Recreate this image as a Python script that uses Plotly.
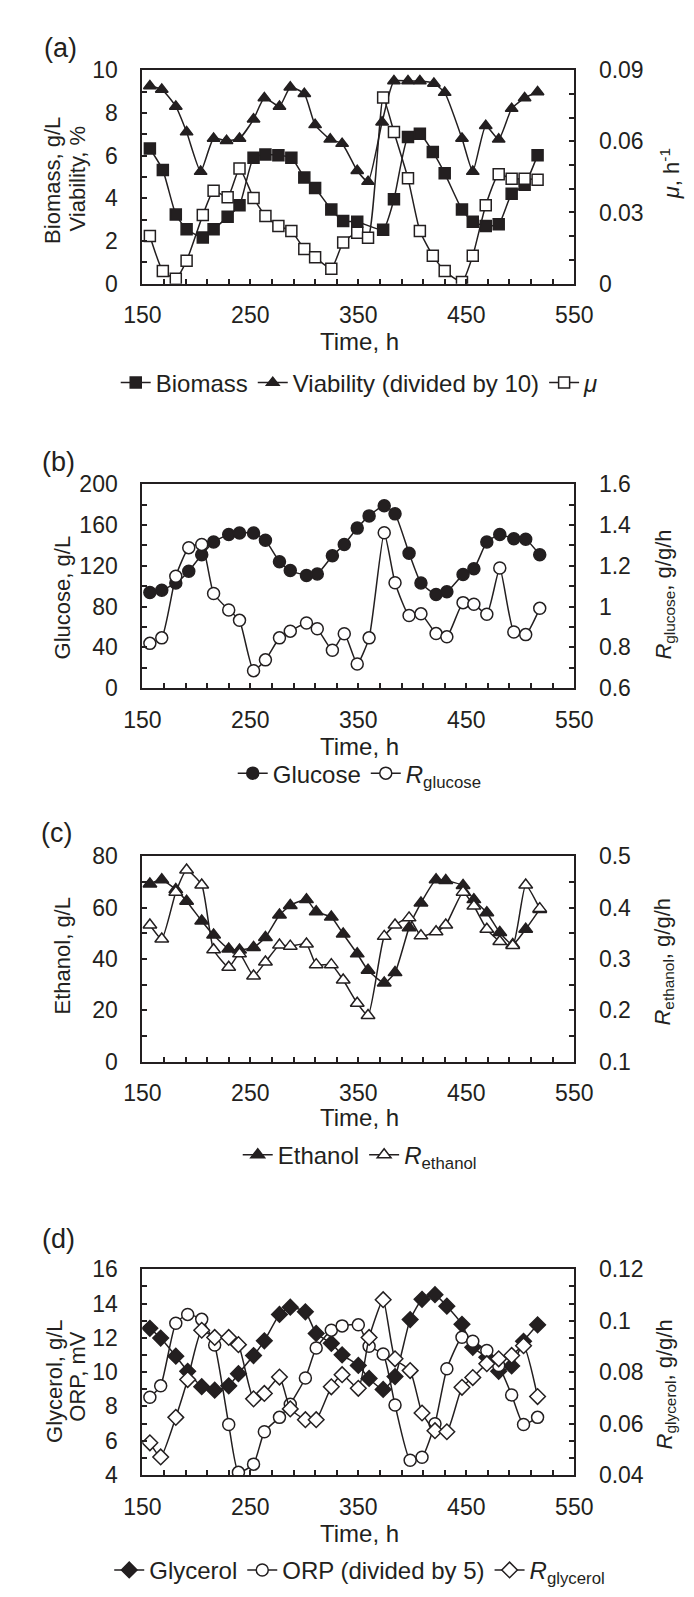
import plotly.graph_objects as go

# ---- panel (a): biomass, viability (/10), specific growth rate
t_biomass = [157, 169, 181, 191, 206, 216, 229, 240, 253, 264, 276, 288, 300, 310, 325,
             336, 349, 373, 383, 396, 407, 419, 430, 446, 456, 468, 480, 492, 504, 516]
biomass = [6.33, 5.32, 3.24, 2.55, 2.16, 2.55, 3.13, 3.67, 5.9, 6.05, 6.02, 5.9, 4.97, 4.48, 3.47,
           2.93, 2.9, 2.53, 3.95, 6.87, 7.02, 6.17, 5.17, 3.47, 2.9, 2.7, 2.78, 4.21, 4.63, 6.02]

t_viab = [157, 168, 181, 191, 204, 216, 228, 240, 253, 263, 277, 287, 300, 310, 324, 335,
          349, 359, 372, 383, 396, 407, 420, 430, 446, 456, 468, 480, 492, 504, 516]
viability_div10 = [9.26, 9.1, 8.3, 7.1, 5.25, 6.8, 6.7, 6.8, 7.7, 8.7, 8.3, 9.2, 8.9, 7.44, 6.76, 6.56,
                   5.29, 4.78, 7.56, 9.49, 9.49, 9.49, 9.38, 8.95, 6.8, 5.25, 7.4, 6.76, 8.2, 8.7, 8.98]

t_mu = [157, 169, 181, 191, 206, 216, 229, 240, 253, 264, 276, 288, 300, 310, 325, 336,
        349, 359, 373, 383, 396, 407, 419, 430, 446, 456, 468, 480, 492, 504, 516]
mu = [0.0201, 0.0053, 0.0021, 0.0097, 0.0289, 0.0392, 0.0364, 0.0486, 0.0361, 0.0285, 0.0243,
      0.0222, 0.0146, 0.0111, 0.0063, 0.0174, 0.0215, 0.0194, 0.0785, 0.0639, 0.0444, 0.0222,
      0.0118, 0.0053, 0.0007, 0.0118, 0.0331, 0.0461, 0.0442, 0.0442, 0.0438]

# ---- panel (b): glucose
t_glc = [157, 168, 181, 193, 205, 216, 230, 240, 253, 264, 277, 287, 302, 312, 326, 337,
         349, 360, 374, 384, 397, 408, 422, 432, 447, 457, 469, 481, 494, 505, 518]
glucose = [93.7, 96, 103, 114.7, 130.8, 143.3, 150.7, 152.3, 152.3, 145, 124, 115.3, 110.5, 112,
           129.8, 141, 157, 169, 179, 171, 132.4, 103, 91.8, 94.4, 111.4, 117, 143.3, 150.7,
           146.5, 146, 130.8]
r_glucose = [0.819, 0.846, 1.149, 1.289, 1.305, 1.064, 0.983, 0.932, 0.685, 0.738, 0.846, 0.879,
             0.919, 0.891, 0.785, 0.866, 0.718, 0.846, 1.362, 1.117, 0.956, 0.964, 0.867, 0.851,
             1.019, 1.011, 0.962, 1.189, 0.875, 0.862, 0.991]

# ---- panel (c): ethanol
t_eth = [157, 168, 181, 191, 205, 216, 230, 240, 253, 264, 277, 287, 302, 311, 325, 336,
         349, 359, 374, 384, 397, 408, 422, 431, 447, 457, 469, 481, 493, 505, 518]
ethanol = [69.2, 70.8, 67, 62.5, 54.8, 49.3, 43.9, 43.5, 44.5, 48.4, 57.1, 60.8, 63.1, 58.4, 56.3,
           49.7, 42, 35.6, 30.7, 34.7, 52.2, 61.8, 70.8, 70.5, 68.6, 63.1, 58, 50.3, 45.6, 51.6, 59.3]
r_ethanol = [0.366, 0.339, 0.43, 0.473, 0.444, 0.318, 0.284, 0.31, 0.267, 0.294, 0.327, 0.325,
             0.329, 0.289, 0.289, 0.259, 0.214, 0.19, 0.344, 0.366, 0.38, 0.345, 0.353, 0.366,
             0.43, 0.403, 0.358, 0.334, 0.326, 0.444, 0.398]

# ---- panel (d): glycerol, ORP (/5)
t_gly = [157, 167, 181, 192, 205, 217, 230, 239, 253, 263, 277, 287, 301, 311, 325, 335,
         350, 360, 373, 384, 398, 409, 421, 432, 446, 456, 469, 480, 492, 503, 516]
glycerol = [12.56, 11.99, 10.93, 10.05, 9.15, 8.95, 9.2, 9.91, 10.97, 11.83, 13.37, 13.79, 13.52,
            12.26, 11.68, 11.01, 10.39, 9.63, 8.99, 9.74, 13.07, 14.25, 14.52, 13.85, 12.79,
            11.45, 10.87, 10.05, 10.36, 11.8, 12.76]
orp_div5 = [8.53, 9.2, 12.85, 13.37, 13.08, 11.58, 6.94, 4.15, 4.63, 6.52, 7.36, 8.13, 9.66, 11.41,
            12.45, 12.7, 12.76, 11.51, 11.06, 8.08, 4.86, 5.03, 6.99, 10.2, 12.04, 11.8, 11.26,
            10.39, 8.67, 6.94, 7.36]
r_glycerol = [0.0525, 0.047, 0.0624, 0.0771, 0.0963, 0.0935, 0.0935, 0.0907, 0.0696, 0.0717,
              0.0781, 0.0657, 0.0615, 0.0615, 0.0743, 0.079, 0.0737, 0.0935, 0.1082, 0.0852,
              0.0806, 0.0641, 0.0572, 0.0568, 0.0741, 0.0779, 0.0833, 0.0852, 0.0865, 0.0903,
              0.0705]

INK = "#231f20"
FONT = "Liberation Sans, Arial, Helvetica, sans-serif"
W, H = 694, 1597
# frame positions in pixels (top, bottom) for each panel
frames = [(50, 267), (471, 678), (849, 1058), (1269, 1478)]
x_dom = [122 / W, 579 / W]


def py(v):
    return 1 - v / H


fig = go.Figure()


def add(x, y, k, right, name, symbol, filled, size, legend):
    yax = f"y{2 * k}" if right else f"y{2 * k - 1}"
    if yax == "y1":
        yax = "y"
    fig.add_trace(go.Scatter(
        x=x, y=y, name=name, mode="lines+markers",
        xaxis="x" if k == 1 else f"x{k}", yaxis=yax, legend=legend,
        line=dict(color=INK, width=1.5, shape="spline", smoothing=0.5),
        marker=dict(symbol=symbol, size=size, color=INK if filled else "white",
                    line=dict(color=INK, width=1.5)),
    ))


add(t_biomass, biomass, 1, False, "Biomass", "square", True, 11, "legend")
add(t_viab, viability_div10, 1, False, "Viability (divided by 10)", "triangle-up", True, 11, "legend")
add(t_mu, mu, 1, True, "<i>μ</i>", "square", False, 11, "legend")

add(t_glc, glucose, 2, False, "Glucose", "circle", True, 12, "legend2")
add(t_glc, r_glucose, 2, True, "<i>R</i><sub>glucose</sub>", "circle", False, 12, "legend2")

add(t_eth, ethanol, 3, False, "Ethanol", "triangle-up", True, 12, "legend3")
add(t_eth, r_ethanol, 3, True, "<i>R</i><sub>ethanol</sub>", "triangle-up", False, 12, "legend3")

add(t_gly, glycerol, 4, False, "Glycerol", "diamond", True, 12, "legend4")
add(t_gly, orp_div5, 4, False, "ORP (divided by 5)", "circle", False, 12, "legend4")
add(t_gly, r_glycerol, 4, True, "<i>R</i><sub>glycerol</sub>", "diamond", False, 12, "legend4")

tickfont = dict(family=FONT, size=23, color=INK)
left_axes = [([0, 10], 2, 1), ([0, 200], 40, 20), ([0, 80], 20, 10), ([4, 16], 2, 1)]
right_axes = [([0, 0.0900001], 0.03, 0.01), ([0.6, 1.6000001], 0.2, 0.1),
              ([0.1, 0.5000001], 0.1, 0.05), ([0.04, 0.1200001], 0.02, 0.08 / 12)]

layout = dict(width=W, height=H, margin=dict(l=0, r=0, t=0, b=0),
              paper_bgcolor="white", plot_bgcolor="white",
              font=dict(family=FONT, size=24, color=INK))

for k in range(1, 5):
    top, bot = frames[k - 1]
    dom = [py(bot), py(top)]
    xa = "xaxis" if k == 1 else f"xaxis{k}"
    ly = 2 * k - 1
    ry = 2 * k
    layout[xa] = dict(domain=x_dom, range=[150, 550], anchor="y" if k == 1 else f"y{ly}",
                      tick0=150, dtick=100, ticks="inside", ticklen=5, tickwidth=1.5,
                      tickcolor=INK, showline=True, linewidth=2, linecolor=INK, mirror=True,
                      showgrid=False, zeroline=False, tickfont=tickfont, ticklabelstandoff=10,
                      minor=dict(tick0=150, dtick=20, ticks="inside", ticklen=5, tickwidth=1.5,
                                 tickcolor=INK, showgrid=False))
    rng, dt, mdt = left_axes[k - 1]
    layout["yaxis" if ly == 1 else f"yaxis{ly}"] = dict(
        domain=dom, range=rng, tick0=rng[0], dtick=dt, anchor="x" if k == 1 else f"x{k}",
        ticks="inside", ticklen=5, tickwidth=1.5, tickcolor=INK, showline=True, linewidth=2,
        linecolor=INK, showgrid=False, zeroline=False, tickfont=tickfont, ticklabelstandoff=18,
        minor=dict(tick0=rng[0], dtick=mdt, ticks="inside", ticklen=5, tickwidth=1.5,
                   tickcolor=INK, showgrid=False))
    rng, dt, mdt = right_axes[k - 1]
    layout[f"yaxis{ry}"] = dict(
        domain=dom, range=rng, tick0=rng[0], dtick=dt, anchor="x" if k == 1 else f"x{k}",
        overlaying="y" if k == 1 else f"y{ly}", side="right",
        ticks="inside", ticklen=5, tickwidth=1.5, tickcolor=INK, showline=True, linewidth=2,
        linecolor=INK, showgrid=False, zeroline=False, tickfont=tickfont, ticklabelstandoff=18,
        minor=dict(tick0=rng[0], dtick=mdt, ticks="inside", ticklen=5, tickwidth=1.5,
                   tickcolor=INK, showgrid=False))

legend_y = [368, 765, 1153, 1575]
for i, ly_px in enumerate(legend_y):
    key = "legend" if i == 0 else f"legend{i + 1}"
    layout[key] = dict(orientation="h", x=352 / W, xanchor="center", y=py(ly_px),
                       yanchor="middle", font=dict(family=FONT, size=24, color=INK),
                       bgcolor="rgba(0,0,0,0)", itemwidth=30, tracegroupgap=0)

fig.update_layout(**layout)

ann = []


def text(x, y, s, size=24, angle=0):
    ann.append(dict(x=x / W, y=py(y), xref="paper", yref="paper", text=s, showarrow=False,
                    xanchor="center", yanchor="middle", textangle=angle,
                    font=dict(family=FONT, size=size, color=INK)))


panel_labels = [("(a)", 35, 27), ("(b)", 33, 448), ("(c)", 31, 825), ("(d)", 33, 1238)]
for s, x, y in panel_labels:
    text(x, y, s, size=27)

time_y = [326, 738, 1115, 1538]
for y in time_y:
    text(352, y, "Time, h")

# left axis titles (rotated)
text(27, 162, "Biomass, g/L", size=22, angle=-90)
text(53, 160, "Viability, %", size=22, angle=-90)
text(38, 586, "Glucose, g/L", size=22, angle=-90)
text(38, 950, "Ethanol, g/L", size=22, angle=-90)
text(29, 1382, "Glycerol, g/L", size=22, angle=-90)
text(53, 1378, "ORP, mV", size=22, angle=-90)

# right axis titles (rotated)
text(681, 155, "<i>μ</i>, h<sup>-1</sup>", size=22, angle=-90)
text(674, 583, "<i>R</i><sub>glucose</sub>, g/g/h", size=22, angle=-90)
text(674, 956, "<i>R</i><sub>ethanol</sub>, g/g/h", size=22, angle=-90)
text(676, 1386, "<i>R</i><sub>glycerol</sub>, g/g/h", size=22, angle=-90)

fig.update_layout(annotations=ann)

fig.write_html("out.html")
